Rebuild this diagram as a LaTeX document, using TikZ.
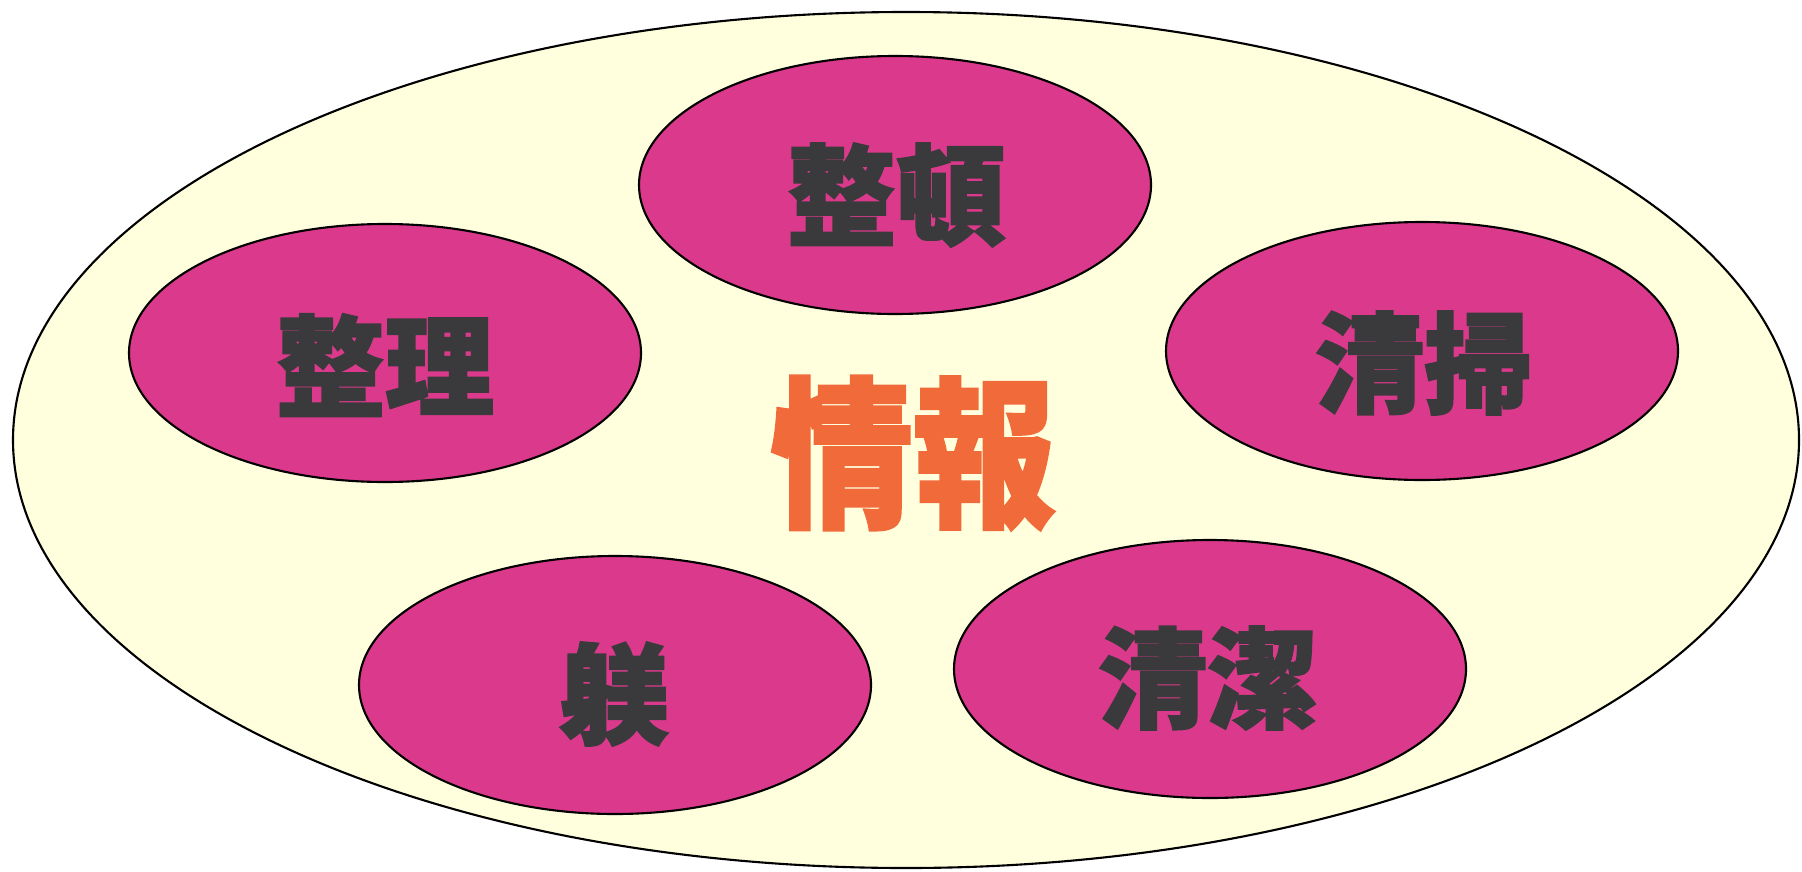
\documentclass[tikz,border=0pt]{standalone}
\usepackage{fontspec}
\newfontfamily\cjk{Noto Sans CJK JP}[FakeBold=2]
\usetikzlibrary{shapes.geometric}
\definecolor{cream}{RGB}{255,255,222}
\definecolor{rouge}{RGB}{219,58,140}
\definecolor{ink}{RGB}{58,58,60}
\definecolor{flame}{RGB}{241,106,58}
\tikzset{
    field/.style={draw, ellipse, fill=cream, line width=0.6pt, minimum width=17.86cm, minimum height=8.56cm, inner sep=0pt},
    pillar/.style={draw, ellipse, fill=rouge, line width=0.6pt, minimum width=5.12cm, minimum height=2.58cm, inner sep=0pt},
    word/.style={text=ink, font=\cjk\bfseries\fontsize{31}{31}\selectfont},
    core/.style={text=flame, font=\cjk\bfseries\fontsize{46}{46}\selectfont} }

\begin{document}
\begin{tikzpicture}
			\useasboundingbox (0,0) rectangle (18.02,8.71);
			\node[field] (FIELD) at (9.06,4.31) {};
			\node[pillar] (seiton) at (8.95,6.86) {};
			\node[pillar] (seiri) at (3.85,5.18) {};
			\node[pillar] (seiso) at (14.22,5.20) {};
			\node[pillar] (shitsuke) at (6.15,1.86) {};
			\node[pillar] (seiketsu) at (12.10,2.02) {};
			% ----
			\node[word] (Tseiton) at (8.96,6.76) {整頓};
			\node[word] (Tseiri) at (3.85,5.06) {整理};
			\node[word] (Tseiso) at (14.24,5.08) {清掃};
			\node[word] (Tshitsuke) at (6.14,1.77) {躾};
			\node[word] (Tseiketsu) at (12.07,1.93) {清潔};
			\node[core] (INFO) at (9.13,4.18) {\scalebox{0.88}[1]{情報}};
		\end{tikzpicture}
\end{document}
